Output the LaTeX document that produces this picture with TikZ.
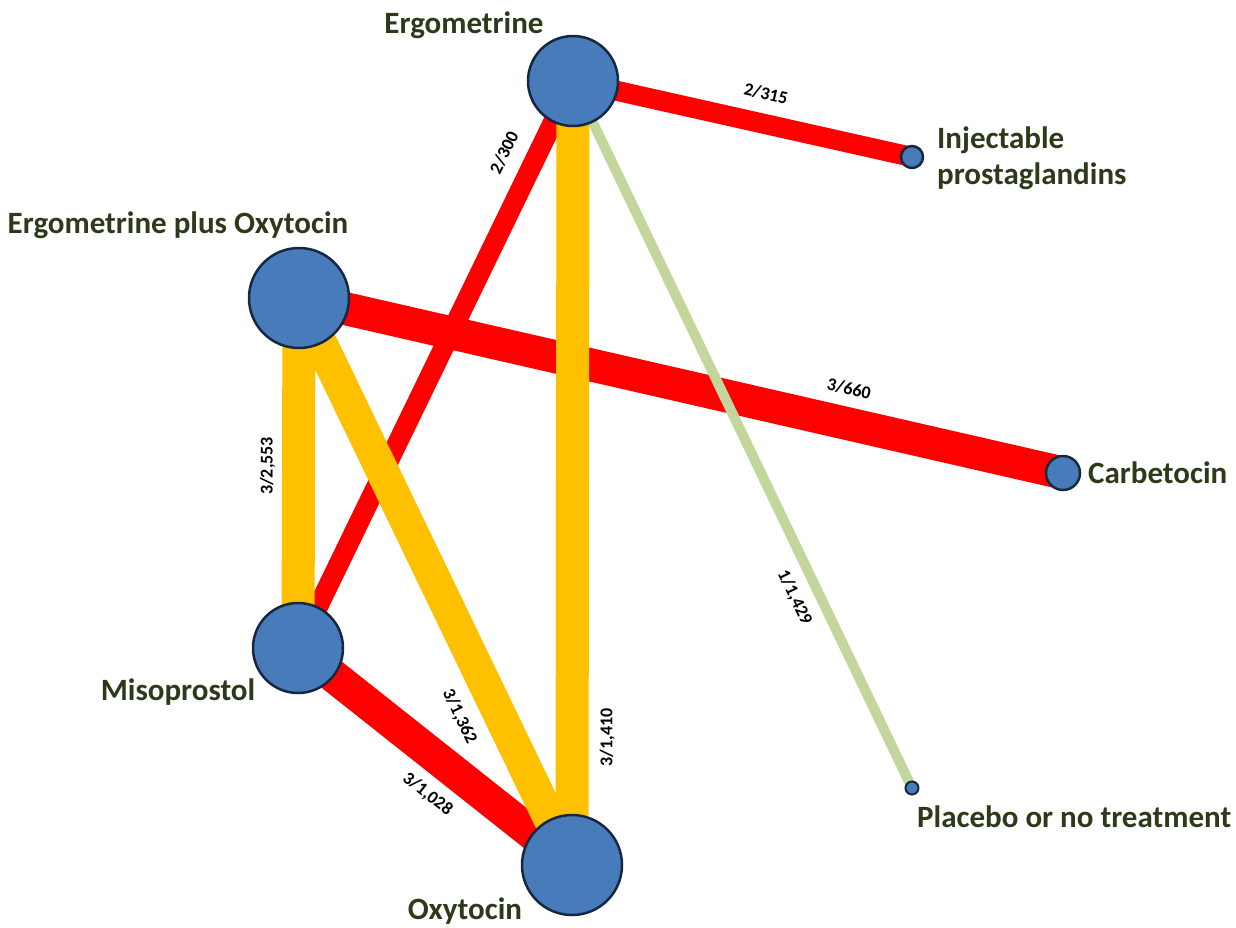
\documentclass[tikz,border=0pt]{standalone}
\usepackage{fontspec}
\setmainfont{Carlito}
\pgfdeclarelayer{bg}
\pgfsetlayers{bg,main}
\definecolor{nodefill}{RGB}{72,123,185}
\definecolor{nodeline}{RGB}{22,40,64}
\definecolor{lblcol}{RGB}{45,58,26}
\definecolor{eyel}{RGB}{255,192,0}
\definecolor{egrn}{RGB}{195,214,155}
\definecolor{ered}{RGB}{255,0,0}
\begin{document}
\begin{tikzpicture}[x=1pt,y=-1pt,
  drug/.style={circle,draw=nodeline,fill=nodefill,line width=2.5pt,inner sep=0pt},
  drugname/.style={text=lblcol,font=\bfseries\fontsize{31}{36}\selectfont,inner sep=0pt},
  elab/.style={font=\bfseries\fontsize{18}{20}\selectfont,sloped,inner sep=1pt,text=black},
  thickred/.style={draw=ered,line width=33pt},
  thinred/.style={draw=ered,line width=20pt},
  thickyel/.style={draw=eyel,line width=33pt},
  thingrn/.style={draw=egrn,line width=10pt}
]
\useasboundingbox (0,0) rectangle (1236,927);

% drugs
\node[drug,minimum size=90pt] (ergo) at (573,81) {};
\node[drug,minimum size=22pt] (inj) at (912,157) {};
\node[drug,minimum size=100pt] (eplus) at (299,298) {};
\node[drug,minimum size=34pt] (carb) at (1063,473) {};
\node[drug,minimum size=90pt] (miso) at (298,648) {};
\node[drug,minimum size=100pt] (oxy) at (572,865) {};
\node[drug,minimum size=13pt,line width=2pt] (plac) at (912,788) {};

% names
\node[drugname] (tErgo) at (464,25) {Ergometrine};
\node[drugname,anchor=west,align=left] (tInj) at (937,158) {Injectable\\prostaglandins};
\node[drugname] (tEplus) at (178,225) {Ergometrine plus Oxytocin};
\node[drugname,anchor=west] (tCarb) at (1088,473) {Carbetocin};
\node[drugname] (tMiso) at (178,692) {Misoprostol};
\node[drugname] (tOxy) at (465,911) {Oxytocin};
\node[drugname,anchor=west] (tPlac) at (917,817) {Placebo or no treatment};

% connectors
\begin{pgfonlayer}{bg}
\draw[thinred] (ergo.center) -- node[elab,pos=0.55,above=12pt] {2/315} (inj.center);
\draw[thinred] (miso.center) -- node[elab,pos=0.85,above=13pt] {2/300} (ergo.center);
\draw[thickred] (eplus.center) -- node[elab,pos=0.71,above=10pt] {3/660} (carb.center);
\draw[thickred] (miso.center) -- node[elab,pos=0.55,below=9pt] {3/1,028} (oxy.center);
\draw[thickyel] (miso.center) -- node[elab,pos=0.52,above=6pt] {3/2,553} (eplus.center);
\draw[thickyel] (eplus.center) -- node[elab,pos=0.71,below=12pt] {3/1,362} (oxy.center);
\draw[thickyel] (oxy.center) -- node[elab,pos=0.163,below=10pt] {3/1,410} (ergo.center);
\draw[thingrn] (ergo.center) -- node[elab,pos=0.716,below=10pt] {1/1,429} (plac.center);
\end{pgfonlayer}
\end{tikzpicture}
\end{document}
